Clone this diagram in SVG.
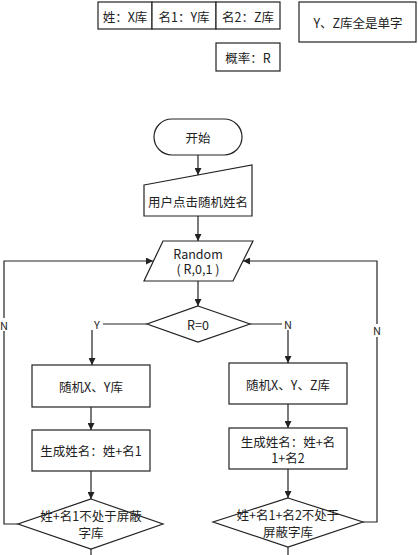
<svg xmlns="http://www.w3.org/2000/svg" width="418" height="555" viewBox="0 0 418 555">
<style>
.s{fill:#fff;stroke:#222;stroke-width:1.2}
.c{fill:none;stroke:#222;stroke-width:1.2}
text{font-family:"Noto Sans CJK SC","Microsoft YaHei",sans-serif;font-size:12.5px;fill:#222;text-anchor:middle;dominant-baseline:central}
.l{font-size:11px}
</style>
<defs>
<marker id="a" viewBox="0 0 10 10" refX="10" refY="5" markerWidth="7" markerHeight="7" markerUnits="userSpaceOnUse" orient="auto">
<path d="M0,0 L10,5 L0,10 z" fill="#222"/>
</marker>
</defs>
<rect width="418" height="555" fill="#fff"/>
<g id="legend">
<rect class="s" x="98" y="2" width="54" height="27"/>
<text x="125" y="16">姓：X库</text>
<rect class="s" x="152" y="2" width="64" height="27"/>
<text x="184" y="16">名1：Y库</text>
<rect class="s" x="216" y="2" width="64" height="27"/>
<text x="248" y="16">名2：Z库</text>
</g>
<g id="note">
<rect class="s" x="299" y="2" width="117" height="40"/>
<text x="358" y="22">Y、Z库全是单字</text>
</g>
<g id="prob">
<rect class="s" x="216" y="43" width="64" height="28"/>
<text x="248" y="57">概率：R</text>
</g>
<g id="start">
<rect class="s" x="154" y="119" width="88" height="36" rx="18"/>
<text x="198" y="137">开始</text>
</g>
<g id="input">
<path class="s" d="M144,185 L252,165 L252,216 L144,216 Z"/>
<text x="198" y="201">用户点击随机姓名</text>
</g>
<g id="random">
<path class="s" d="M163,241 L253,241 L233,281 L144,281 Z"/>
<text x="198" y="253">Random</text>
<text x="198" y="268">( R,0,1 )</text>
</g>
<g id="cond">
<path class="s" d="M198,306 L250,324 L198,342 L147,324 Z"/>
<text x="198" y="324">R=0</text>
</g>
<g id="leftRand">
<rect class="s" x="32" y="365" width="118" height="42"/>
<text x="91" y="386">随机X、Y库</text>
</g>
<g id="leftGen">
<rect class="s" x="32" y="430" width="118" height="41"/>
<text x="91" y="450">生成姓名：姓+名1</text>
</g>
<g id="leftCheck">
<path class="s" d="M91,499 L163,524 L91,549 L18,524 Z"/>
<text x="91" y="515">姓+名1不处于屏蔽</text>
<text x="91" y="532">字库</text>
</g>
<g id="rightRand">
<rect class="s" x="229" y="363" width="118" height="41"/>
<text x="288" y="384">随机X、Y、Z库</text>
</g>
<g id="rightGen">
<rect class="s" x="229" y="428" width="118" height="41"/>
<text x="288" y="441">生成姓名：姓+名</text>
<text x="288" y="457">1+名2</text>
</g>
<g id="rightCheck">
<path class="s" d="M288,498 L363,522 L288,547 L213,522 Z"/>
<text x="288" y="514">姓+名1+名2不处于</text>
<text x="288" y="531">屏蔽字库</text>
</g>
<g id="connectors">
<path class="c" d="M198,155 L198,175" marker-end="url(#a)"/>
<path class="c" d="M198,216 L198,241" marker-end="url(#a)"/>
<path class="c" d="M198,281 L198,306" marker-end="url(#a)"/>
<path class="c" d="M147,324 L92,324 L92,365" marker-end="url(#a)"/>
<path class="c" d="M250,324 L288,324 L288,363" marker-end="url(#a)"/>
<path class="c" d="M91,407 L91,430" marker-end="url(#a)"/>
<path class="c" d="M91,471 L91,499" marker-end="url(#a)"/>
<path class="c" d="M288,404 L288,428" marker-end="url(#a)"/>
<path class="c" d="M288,469 L288,498" marker-end="url(#a)"/>
<path class="c" d="M91,549 L91,555"/>
<path class="c" d="M288,547 L288,555"/>
<path class="c" d="M18,524 L4,524 L4,261 L153,261" marker-end="url(#a)"/>
<path class="c" d="M363,522 L377,522 L377,261 L243,261" marker-end="url(#a)"/>
<rect x="91" y="318" width="12" height="12" fill="#fff"/>
<text class="l" x="97" y="324">Y</text>
<rect x="282" y="318" width="12" height="12" fill="#fff"/>
<text class="l" x="288" y="324">N</text>
<rect x="0" y="318" width="9" height="13" fill="#fff"/>
<text class="l" x="4" y="325">N</text>
<rect x="372" y="324" width="10" height="13" fill="#fff"/>
<text class="l" x="377" y="330">N</text>
</g>
</svg>
